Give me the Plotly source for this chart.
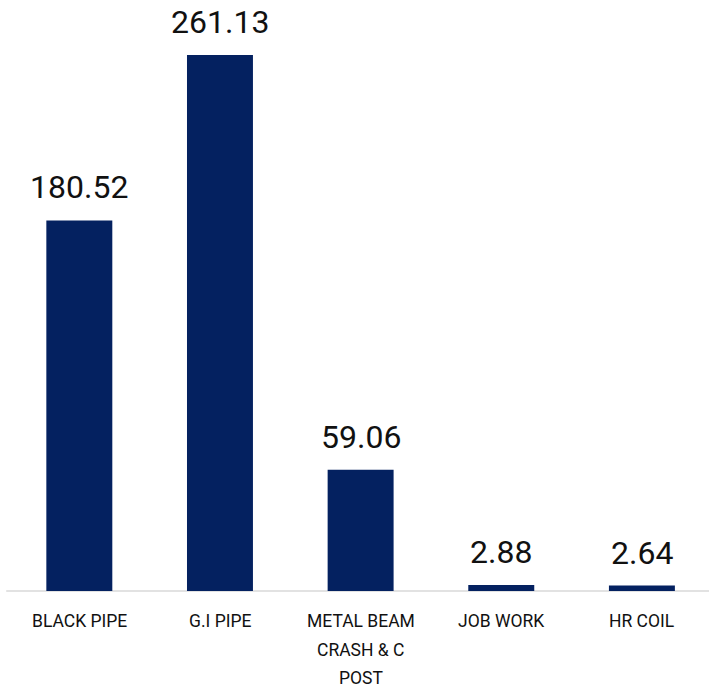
import plotly.graph_objects as go

# Product-wise values
categories = ["BLACK PIPE", "G.I PIPE", "METAL BEAM CRASH & C POST", "JOB WORK", "HR COIL"]
label_lines = [["BLACK PIPE"], ["G.I PIPE"], ["METAL BEAM", "CRASH & C", "POST"], ["JOB WORK"], ["HR COIL"]]
values = [180.52, 261.13, 59.06, 2.88, 2.64]

BAR_COLOR = "#042160"
FONT = "Roboto"

fig = go.Figure(
    go.Bar(
        x=categories,
        y=values,
        marker=dict(color=BAR_COLOR, line=dict(width=0)),
        hoverinfo="x+y",
    )
)

annotations = []
# value labels above each bar
for cat, val in zip(categories, values):
    annotations.append(dict(
        x=cat, y=val, xref="x", yref="y",
        text=f"{val:.2f}", showarrow=False,
        xanchor="center", yanchor="bottom", yshift=12,
        font=dict(family=FONT, size=32, color="#111111"),
    ))

# category labels under the axis, one annotation per line
LINE_STEP = 28.5
for cat, lines in zip(categories, label_lines):
    for i, line in enumerate(lines):
        annotations.append(dict(
            x=cat, y=0, xref="x", yref="paper",
            text=line, showarrow=False,
            xanchor="center", yanchor="middle",
            yshift=-(30 + i * LINE_STEP),
            font=dict(family=FONT, size=17.5, color="#111111"),
        ))

fig.update_layout(
    width=709,
    height=688,
    margin=dict(l=8.5, r=0, t=0, b=97),
    paper_bgcolor="white",
    plot_bgcolor="white",
    bargap=0.531,
    showlegend=False,
    annotations=annotations,
    shapes=[dict(
        type="line", xref="paper", yref="paper",
        x0=-0.004, x1=1.0, y0=0, y1=0,
        line=dict(color="#d9d9d9", width=1.5),
        layer="below",
    )],
    xaxis=dict(
        range=[-0.5, 4.477],
        showticklabels=False,
        showgrid=False,
        zeroline=False,
        showline=False,
        ticks="",
    ),
    yaxis=dict(
        range=[0, 287.93],
        visible=False,
        showgrid=False,
        zeroline=False,
    ),
)

fig.write_html("out.html")
